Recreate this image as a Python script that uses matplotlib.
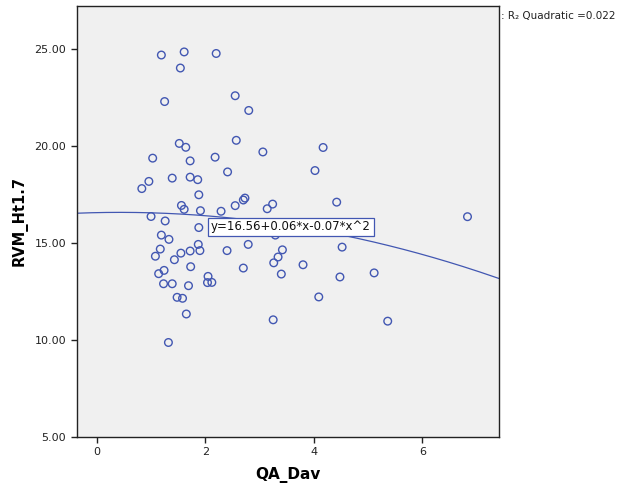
import matplotlib
matplotlib.use('Agg')
import matplotlib.pyplot as plt
import numpy as np

# QA_Dav vs RVM_Ht1.7
qa_dav = [1.19, 1.61, 2.20, 1.54, 1.25, 2.55, 2.80, 1.52, 1.64, 2.57,
          1.03, 1.72, 2.18, 3.06, 4.17, 4.02, 0.96, 0.83, 1.39, 1.72,
          1.86, 2.41, 1.88, 1.56, 1.61, 1.91, 2.29, 2.55, 2.70, 2.73,
          3.14, 3.24, 4.42, 1.00, 1.26, 1.88, 6.83, 1.19, 1.33, 3.29,
          2.79, 1.87, 4.52, 1.08, 1.17, 1.90, 1.72, 1.55, 1.43, 2.40,
          3.34, 3.42, 3.26, 3.80, 3.40, 2.70, 1.14, 1.24, 1.73, 1.23,
          1.39, 1.69, 2.05, 2.04, 2.12, 1.48, 1.58, 1.65, 3.25, 1.32,
          4.09, 4.48, 5.11, 5.36]
rvm_ht = [24.69, 24.85, 24.77, 24.02, 22.29, 22.59, 21.83, 20.13, 19.93, 20.29,
          19.37, 19.23, 19.42, 19.69, 19.92, 18.73, 18.17, 17.80, 18.34, 18.39,
          18.26, 18.66, 17.48, 16.93, 16.73, 16.66, 16.63, 16.92, 17.21, 17.31,
          16.76, 17.00, 17.10, 16.36, 16.13, 15.79, 16.35, 15.40, 15.18, 15.40,
          14.92, 14.92, 14.78, 14.31, 14.68, 14.60, 14.58, 14.47, 14.13, 14.60,
          14.27, 14.64, 13.97, 13.87, 13.39, 13.70, 13.41, 13.58, 13.77, 12.89,
          12.89, 12.79, 13.27, 12.95, 12.96, 12.19, 12.14, 11.33, 11.03, 9.86,
          12.21, 13.24, 13.45, 10.96]

# quadratic fit coefficients shown on the chart
fit_coef = [16.56, 0.06, -0.07]
fit_label = 'y=16.56+0.06*x-0.07*x^2'
legend_text = ': R\u2082 Quadratic =0.022'

blue = '#4257b2'

fig = plt.figure(figsize=(6.26, 4.87), dpi=100)
ax = fig.add_axes([0.1225, 0.1033, 0.6746, 0.8844])
ax.set_facecolor('#f0f0f0')

ax.scatter(qa_dav, rvm_ht, s=30, facecolors='none', edgecolors=blue,
           linewidths=1.0, zorder=3)

xlim = (-0.37, 7.41)
xs = np.linspace(xlim[0], xlim[1], 200)
ys = fit_coef[0] + fit_coef[1] * xs + fit_coef[2] * xs ** 2
ax.plot(xs, ys, color=blue, linewidth=0.9, zorder=2)

ax.text(3.58, 15.82, fit_label, fontsize=8.5, ha='center', va='center',
        color='#111111', zorder=4,
        bbox=dict(boxstyle='square,pad=0.25', fc='white', ec=blue, lw=0.9))

ax.set_xlim(*xlim)
ax.set_ylim(5, 27.22)
ax.set_xticks([0, 2, 4, 6])
ax.set_yticks([5, 10, 15, 20, 25])
ax.set_yticklabels(['5.00', '10.00', '15.00', '20.00', '25.00'])
ax.tick_params(axis='both', labelsize=8, length=4, width=1, direction='out',
               colors='#222222')
for s in ax.spines.values():
    s.set_linewidth(1.0)
    s.set_color('#222222')

ax.set_xlabel('QA_Dav', fontsize=11, fontweight='bold', labelpad=7)
ax.set_ylabel('RVM_Ht1.7', fontsize=10.5, fontweight='bold', labelpad=5)

fig.text(0.801, 0.968, legend_text, fontsize=7.5, ha='left', va='center',
         color='#222222')

fig.savefig('out.png', dpi=100)
